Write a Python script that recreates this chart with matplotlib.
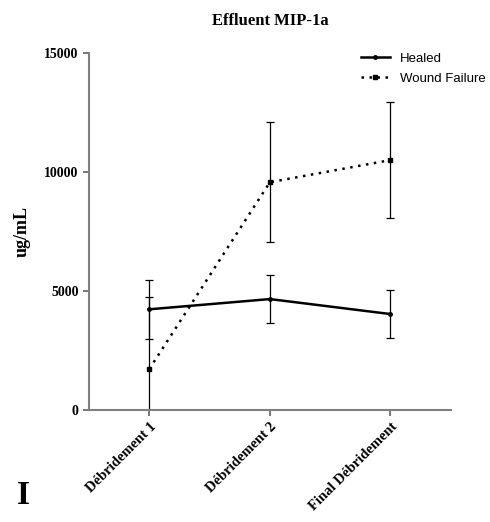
import matplotlib
matplotlib.use("Agg")
import matplotlib.pyplot as plt

categorias = ["Débridement 1", "Débridement 2", "Final Débridement"]
healed = [4230, 4660, 4030]
healed_err = [1250, 1020, 1010]
falla = [1720, 9570, 10500]
falla_err = [3040, 2530, 2450]

serif = "Liberation Serif"
sans = "Liberation Sans"

fig = plt.figure(figsize=(4.9, 5.22), dpi=100)
ax = fig.add_axes([0.1816, 0.2146, 0.7384, 0.6839])

x = list(range(len(categorias)))

# barras de error aparte para que no salgan en la leyenda
ax.errorbar(x, healed, yerr=healed_err, fmt="none", ecolor="black",
            elinewidth=0.9, capsize=3, capthick=0.9)
ax.errorbar(x, falla, yerr=falla_err, fmt="none", ecolor="black",
            elinewidth=0.9, capsize=3, capthick=0.9)
ax.plot(x, healed, color="black", lw=1.8, marker="o", ms=2.5, label="Healed")
ax.plot(x, falla, color="black", lw=1.8, ls=(0, (1, 2.2)), marker="s", ms=3,
        label="Wound Failure")

ax.set_xlim(-0.5, 2.5)
ax.set_ylim(0, 15000)
ax.set_yticks([0, 5000, 10000, 15000])
ax.set_xticks(x)
ax.set_xticklabels(categorias, rotation=45, ha="right", rotation_mode="anchor",
                   fontfamily=serif, fontweight="bold", fontsize=10.5)
for t in ax.get_yticklabels():
    t.set_fontfamily(serif)
    t.set_fontweight("bold")
    t.set_fontsize(10)

for lado in ["top", "right"]:
    ax.spines[lado].set_visible(False)
for lado in ["left", "bottom"]:
    ax.spines[lado].set_color("#808080")
    ax.spines[lado].set_linewidth(1.5)
ax.tick_params(colors="#606060", length=4, width=1.2, labelcolor="black")

ax.set_title("Effluent MIP-1a", fontfamily=serif, fontweight="bold", fontsize=12, pad=20)
ax.set_ylabel("ug/mL", fontfamily=serif, fontweight="bold", fontsize=13, labelpad=10)

ax.legend(loc="upper right", bbox_to_anchor=(1.13, 1.035), frameon=False,
          prop={"family": sans, "size": 9.5}, handlelength=2.2, handletextpad=0.8,
          labelspacing=0.6)

fig.text(0.035, 0.035, "I", fontfamily=serif, fontweight="bold", fontsize=24)

fig.savefig("out.png", dpi=100)
